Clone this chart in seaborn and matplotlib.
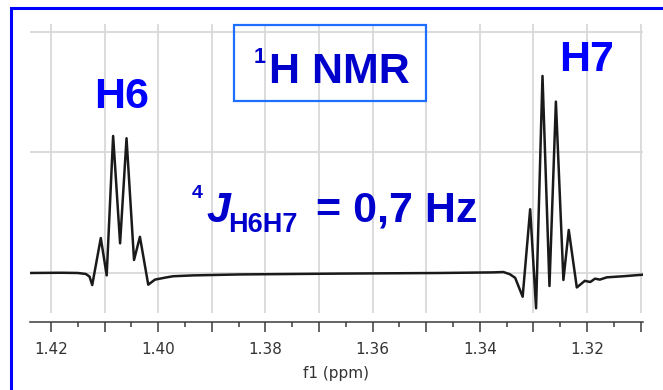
import matplotlib
matplotlib.use("Agg")
import matplotlib.pyplot as plt
import numpy as np
import pandas as pd
import seaborn as sns
from matplotlib.patches import Rectangle
from matplotlib.transforms import IdentityTransform
from matplotlib.ticker import FixedLocator, FixedFormatter

# Traced 1H spectrum: chemical shift (ppm) and intensity (grid units)
shift_ppm = [
    1.4240, 1.4180, 1.4150, 1.4135, 1.4128, 1.4123,
    1.4107, 1.4096, 1.4084, 1.4071, 1.4059, 1.4045, 1.4034, 1.40185,
    1.4006, 1.3984, 1.3972, 1.3935, 1.3847, 1.3661, 1.3474, 1.3375,
    1.3356, 1.3344, 1.3334, 1.3320,
    1.3306, 1.3295, 1.3283, 1.3270, 1.3258, 1.3244, 1.3234, 1.3219,
    1.3204, 1.3194, 1.3185, 1.3176, 1.3163, 1.3132, 1.30955,
]
intensity = [
    0.000, 0.002, 0.000, -0.008, -0.030, -0.100,
    0.290, -0.020, 1.137, 0.246, 1.118, 0.108, 0.300, -0.097,
    -0.055, -0.036, -0.027, -0.020, -0.012, -0.005, 0.000, 0.005,
    0.008, -0.010, -0.040, -0.197,
    0.529, -0.293, 1.635, -0.108, 1.422, -0.058, 0.357, -0.120,
    -0.065, -0.075, -0.047, -0.055, -0.036, -0.027, -0.014,
]

major_ticks = [1.42, 1.41, 1.40, 1.39, 1.38, 1.37, 1.36, 1.35, 1.34, 1.33, 1.32, 1.31]
tick_labels = ["1.42", "", "1.40", "", "1.38", "", "1.36", "", "1.34", "", "1.32", ""]
minor_ticks = [1.415, 1.405, 1.395, 1.385, 1.375, 1.365, 1.355, 1.345, 1.335, 1.325, 1.315]
grid_levels = [0, 1, 2]

sns.set_theme(style="ticks")
plt.rcParams["font.family"] = ["DejaVu Sans"]

W, H = 663, 390
fig = plt.figure(figsize=(W / 100, H / 100), dpi=100)
fig.patch.set_facecolor("white")
ax = fig.add_axes([29.5 / W, (H - 313) / H, 613.5 / W, 289 / H])

df = pd.DataFrame({"f1 (ppm)": shift_ppm, "intensity": intensity})
sns.lineplot(data=df, x="f1 (ppm)", y="intensity", ax=ax, sort=False,
             estimator=None, color="#1a1a1a", linewidth=1.8)

ax.set_xlim(1.4240, 1.30955)
ax.set_ylim(-0.332, 2.066)

ax.xaxis.set_major_locator(FixedLocator(major_ticks))
ax.xaxis.set_major_formatter(FixedFormatter(tick_labels))
ax.xaxis.set_minor_locator(FixedLocator(minor_ticks))
ax.set_yticks(grid_levels)
ax.set_yticklabels([])
ax.tick_params(axis="y", left=False, length=0)

ax.grid(True, which="major", color="#d9d9d9", linewidth=1.3)
ax.set_axisbelow(True)
for side in ["top", "right", "left"]:
    ax.spines[side].set_visible(False)
ax.spines["bottom"].set_position(("outward", 6.3))
ax.spines["bottom"].set_color("#3a3a3a")
ax.spines["bottom"].set_linewidth(1.1)
ax.tick_params(axis="x", which="major", direction="out", bottom=True, length=7.2,
               width=1.1, color="#3a3a3a", pad=7.2, labelsize=11, labelcolor="#333333")
ax.tick_params(axis="x", which="minor", direction="out", bottom=True, length=3.6,
               width=1.1, color="#3a3a3a")
ax.set_xlabel("f1 (ppm)", fontsize=11, color="#333333", labelpad=6.5)
ax.set_ylabel("")

# Outer blue frame
fig.add_artist(Rectangle((10.5, -20), 700, H - 7.5 + 20, transform=IdentityTransform(),
                         fill=False, edgecolor="#0000ff", linewidth=2.2, clip_on=False))

# Annotation box around the experiment title
fig.add_artist(Rectangle((234, H - 101), 192, 76, transform=IdentityTransform(),
                         fill=False, edgecolor="#1e6eff", linewidth=1.6, clip_on=False))


def put(x, y_top, s, size, color, style="normal"):
    fig.text(x, H - y_top, s, transform=IdentityTransform(), ha="left", va="baseline",
             fontsize=size, fontweight="bold", fontstyle=style, color=color,
             family="Liberation Sans")


main = 31
put(94, 108, "H6", main, "#0000ff")
put(559, 70.7, "H7", main, "#0000ff")
put(254, 63, "1", 15.5, "#0000cd")
put(269, 83, "H NMR", main, "#0000cd")
put(192, 198, "4", 14, "#0000cd")
put(206, 221.5, "J", main, "#0000cd", style="italic")
put(228.5, 231.7, "H6H7", 19.5, "#0000cd")
put(315.5, 221.5, "= 0,7 Hz", main, "#0000cd")

fig.savefig("out.png", dpi=100)
